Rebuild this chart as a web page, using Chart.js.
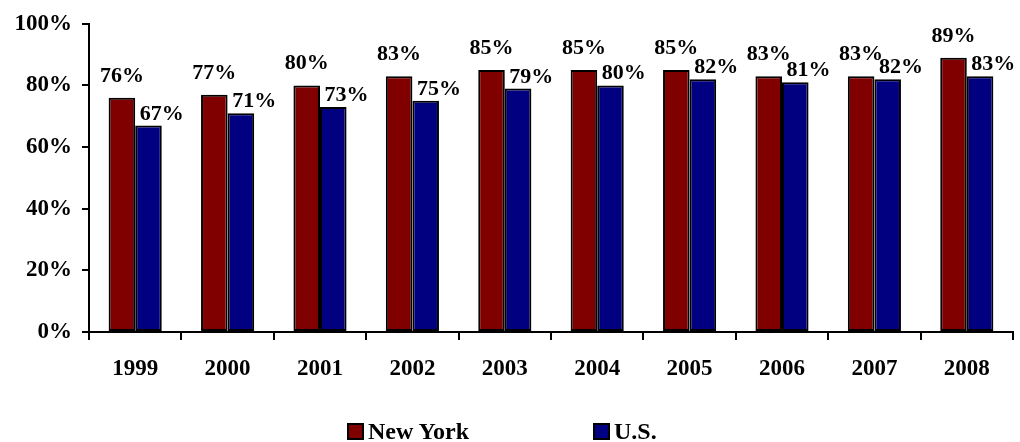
<!DOCTYPE html>
<html lang="en">
<head>
    <meta charset="UTF-8">
    <title>New York vs U.S.</title>
    <script src="https://cdn.jsdelivr.net/npm/chart.js"></script>
    <style>
        body {
            margin: 0;
            font-family: "Liberation Serif", "Times New Roman", serif;
        }
        .chartContainer {
            position: relative;
            width: 1020px;
            height: 442px;
        }
        #legend {
            position: absolute;
            left: 347px;
            top: 419px;
            display: flex;
            font-weight: bold;
            font-size: 24px;
            line-height: 24px;
        }
        #legend .item {
            display: flex;
            align-items: center;
        }
        #legend .item:first-child {
            width: 246px;
        }
        #legend .box {
            width: 13px;
            height: 13px;
            border: 2px solid #000;
            margin-right: 4px;
        }
    </style>
</head>
<body>
    <div class="chartContainer">
        <canvas id="barChart" width="1020" height="442"></canvas>
        <div id="legend"></div>
    </div>

    <script>
        const years = ['1999', '2000', '2001', '2002', '2003', '2004', '2005', '2006', '2007', '2008'];
        const newYork = [76, 77, 80, 83, 85, 85, 85, 83, 83, 89];
        const us = [67, 71, 73, 75, 79, 80, 82, 81, 82, 83];
        const seriesNames = ['New York', 'U.S.'];
        const colors = ['#800000', '#000080'];

        const fontFamily = '"Liberation Serif", "Times New Roman", serif';

        // value labels: New York centred above its bar, U.S. shifted to the bar's right edge
        const valueLabels = {
            id: 'valueLabels',
            afterDatasetsDraw(chart) {
                const ctx = chart.ctx;
                ctx.save();
                ctx.font = 'bold 22px ' + fontFamily;
                ctx.fillStyle = '#000';
                ctx.textAlign = 'center';
                ctx.textBaseline = 'alphabetic';
                chart.data.datasets.forEach((ds, i) => {
                    chart.getDatasetMeta(i).data.forEach((bar, j) => {
                        const text = ds.data[j] + '%';
                        if (i === 0) {
                            ctx.fillText(text, bar.x, bar.y - 16);
                        } else {
                            ctx.fillText(text, bar.x + bar.width / 2, bar.y - 6);
                        }
                    });
                });
                ctx.restore();
            }
        };

        const ctx = document.getElementById('barChart').getContext('2d');
        const chart = new Chart(ctx, {
            type: 'bar',
            data: {
                labels: years,
                datasets: [
                    {
                        label: seriesNames[0],
                        data: newYork,
                        backgroundColor: colors[0],
                        borderColor: '#000',
                        borderWidth: 2,
                        borderSkipped: false
                    },
                    {
                        label: seriesNames[1],
                        data: us,
                        backgroundColor: colors[1],
                        borderColor: '#000',
                        borderWidth: 2,
                        borderSkipped: false
                    }
                ]
            },
            options: {
                responsive: false,
                animation: false,
                categoryPercentage: 0.575,
                barPercentage: 1.0,
                layout: {
                    padding: { top: 22, right: 7, bottom: 60, left: 0 }
                },
                plugins: {
                    legend: { display: false },
                    tooltip: { enabled: false }
                },
                scales: {
                    x: {
                        offset: true,
                        grid: {
                            offset: true,
                            drawOnChartArea: false,
                            color: '#000',
                            lineWidth: 2,
                            tickLength: 8
                        },
                        border: { color: '#000', width: 2 },
                        ticks: {
                            color: '#000',
                            padding: 15,
                            font: { family: fontFamily, size: 23, weight: 'bold' }
                        },
                        afterFit(scale) {
                            scale.height = 50;
                        }
                    },
                    y: {
                        min: 0,
                        max: 100,
                        grid: {
                            drawOnChartArea: false,
                            color: '#000',
                            lineWidth: 2,
                            tickLength: 7
                        },
                        border: { color: '#000', width: 2 },
                        ticks: {
                            stepSize: 20,
                            color: '#000',
                            padding: 10,
                            font: { family: fontFamily, size: 23, weight: 'bold' },
                            callback: (v) => v + '%'
                        },
                        afterFit(scale) {
                            scale.width = 89;
                        }
                    }
                }
            },
            plugins: [valueLabels]
        });

        // legend under the plot
        const legend = document.getElementById('legend');
        seriesNames.forEach((name, i) => {
            const item = document.createElement('div');
            item.className = 'item';
            const box = document.createElement('span');
            box.className = 'box';
            box.style.background = colors[i];
            const label = document.createElement('span');
            label.textContent = name;
            item.appendChild(box);
            item.appendChild(label);
            legend.appendChild(item);
        });
    </script>
</body>
</html>
